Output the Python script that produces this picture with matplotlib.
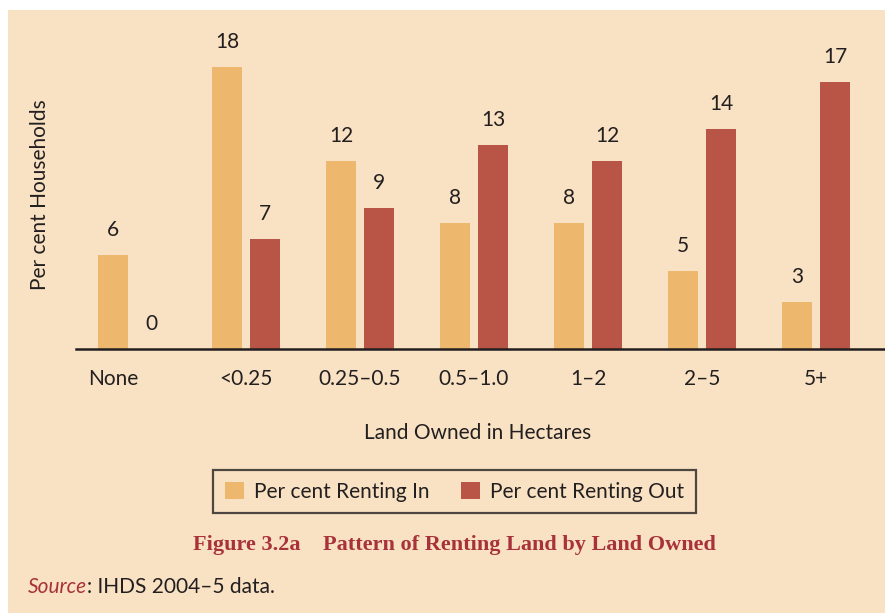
import matplotlib
matplotlib.use("Agg")
import matplotlib.pyplot as plt
from matplotlib.patches import Rectangle, Patch
import numpy as np

categories = ["None", "<0.25", "0.25\u20130.5", "0.5\u20131.0", "1\u20132", "2\u20135", "5+"]
renting_in = [6, 18, 12, 8, 8, 5, 3]
renting_out = [0, 7, 9, 13, 12, 14, 17]
series_names = ["Per cent Renting In", "Per cent Renting Out"]

BG = "#F9E2C3"
C_IN = "#EDB76E"
C_OUT = "#B95547"
TXT = "#231F20"
CAP = "#A8323A"
SANS = ["Lato", "DejaVu Sans"]
FS = 15

fig = plt.figure(figsize=(8.85, 6.13), dpi=100, facecolor="white")
fig.patches.append(Rectangle((8/885, 0), 1, 1 - 10/613, transform=fig.transFigure,
                             facecolor=BG, edgecolor="none", zorder=-10))

ax = fig.add_axes([76/885, 1 - 349/613, 809/885, 339/613])
ax.set_facecolor("none")
x = np.arange(len(categories))
off = 0.1667
w = 0.263
ax.bar(x - off, renting_in, width=w, color=C_IN, label=series_names[0])
ax.bar(x + off, renting_out, width=w, color=C_OUT, label=series_names[1])
for xi, v in zip(x, renting_in):
    ax.annotate(str(v), (xi - off, v), xytext=(0, 18), textcoords="offset points",
                ha="center", va="center", fontsize=FS, color=TXT, family=SANS)
for xi, v in zip(x, renting_out):
    ax.annotate(str(v), (xi + off, v), xytext=(0, 18), textcoords="offset points",
                ha="center", va="center", fontsize=FS, color=TXT, family=SANS)

ax.set_xlim(-0.491, 6.605)
ax.set_ylim(0, 21.6)
ticks = x.astype(float).copy()
ticks[0] = -off
ax.set_xticks(ticks)
ax.set_xticklabels(categories, fontsize=FS, color=TXT, family=SANS)
ax.tick_params(axis="x", length=0, pad=14.5)
ax.set_yticks([])
for s in ["top", "right", "left"]:
    ax.spines[s].set_visible(False)
ax.spines["bottom"].set_color(TXT)
ax.spines["bottom"].set_linewidth(1.8)

fig.text(40/885, 1 - 195/613, "Per cent Households", rotation=90, ha="center", va="center",
         fontsize=FS, color=TXT, family=SANS)
fig.text(478/885, 1 - 433/613, "Land Owned in Hectares", ha="center", va="center",
         fontsize=FS, color=TXT, family=SANS)

handles = [Patch(facecolor=C_IN), Patch(facecolor=C_OUT)]
leg = fig.legend(handles, series_names, loc="center", bbox_to_anchor=(454.5/885, 1 - 491.5/613),
                 ncol=2, frameon=True, fancybox=False, prop={"family": SANS, "size": FS},
                 handlelength=0.9, handleheight=0.9, handletextpad=0.5, columnspacing=1.5,
                 borderpad=0.55, borderaxespad=0)
leg.get_frame().set_facecolor(BG)
leg.get_frame().set_edgecolor(TXT)
leg.get_frame().set_linewidth(1.6)
for t in leg.get_texts():
    t.set_color(TXT)

fig.text(454/885, 1 - 545/613, "Figure 3.2a    Pattern of Renting Land by Land Owned",
         ha="center", va="center", fontsize=16, color=CAP, family="Liberation Serif",
         fontweight="bold")

src = fig.text(28/885, 1 - 587/613, "Source", ha="left", va="center", fontsize=FS,
               color=CAP, family=SANS, style="italic")
fig.canvas.draw()
bb = src.get_window_extent()
fig.text(bb.x1 / fig.bbox.width, 1 - 587/613, ": IHDS 2004\u20135 data.", ha="left", va="center",
         fontsize=FS, color=TXT, family=SANS)

fig.savefig("out.png", dpi=100, facecolor="white")
